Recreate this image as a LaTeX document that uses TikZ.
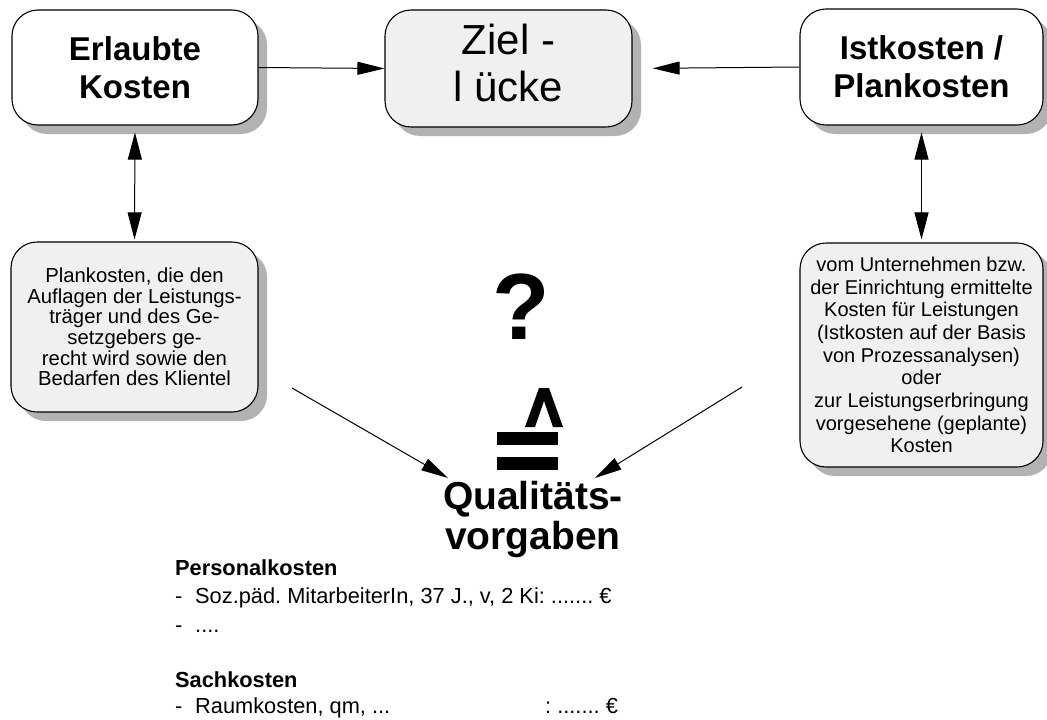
\documentclass[tikz,border=0pt]{standalone}
\usepackage{fontspec}
\setmainfont{Liberation Sans}
\usetikzlibrary{arrows.meta,shadows}
\frenchspacing

\begin{document}
\begin{tikzpicture}[x=1pt,y=-1pt,
  box/.style={draw=black, line width=1.1pt, rounded corners=26pt, align=center,
    inner sep=0pt, fill=white,
    drop shadow={shadow xshift=9pt, shadow yshift=-9pt, fill=black!30, opacity=1}},
  greybox/.style={box, fill=black!6},
  titlefont/.style={font=\fontsize{33}{38}\selectfont\bfseries},
  notefont/.style={font=\fontsize{20.3}{20.6}\selectfont},
  arr/.style={line width=1pt, -{Triangle[length=27pt,width=13pt]}},
  dblarr/.style={line width=1pt, {Triangle[length=27pt,width=14pt]}-{Triangle[length=27pt,width=14pt]}},
  plain/.style={inner sep=0pt, font=\fontsize{21.8}{24}\selectfont},
  plainbold/.style={plain, font=\fontsize{21.8}{24}\selectfont\bfseries}
]
\useasboundingbox (0,0) rectangle (1047,720);

% top row
\node[box, titlefont, minimum width=246pt, minimum height=115pt] (erl) at (135,67.5)
  {Erlaubte\\Kosten};
\node[greybox, font=\fontsize{42}{47}\selectfont, minimum width=247pt, minimum height=117pt] (ziel) at (508.5,68.5)
  {\raisebox{3pt}{\begin{tabular}{@{}c@{}}Ziel -\\l ücke\end{tabular}}};
\node[box, titlefont, minimum width=243pt, minimum height=116pt] (ist) at (921.5,67)
  {Istkosten /\\Plankosten};

% explanation boxes
\node[greybox, notefont, minimum width=247pt, minimum height=170pt] (plan) at (134.5,327)
  {Plankosten, die den\\Auflagen der Leistungs-\\träger und des Ge-\\setzgebers ge-\\recht wird sowie den\\Bedarfen des Klientel};
\node[greybox, font=\fontsize{20}{22.7}\selectfont, minimum width=243pt, minimum height=224pt] (real) at (921.5,355)
  {vom Unternehmen bzw.\\der Einrichtung ermittelte\\Kosten für Leistungen\\(Istkosten auf der Basis\\von Prozessanalysen)\\oder\\zur Leistungserbringung\\vorgesehene (geplante)\\Kosten};

% connectors between the boxes
\draw[arr] (erl.east) -- (ziel.west);
\draw[arr, shorten >=20pt] (ist.west) -- (ziel.east);
\draw[dblarr, shorten <=7pt, shorten >=2pt] (erl.south) -- (plan.north);
\draw[dblarr, shorten <=7pt, shorten >=3pt] (ist.south) -- (real.north);

% question mark and "corresponds to" sign
\node[inner sep=0pt, font=\fontsize{94}{94}\selectfont\bfseries] (q) at (521.5,307) {?};
\fill (525,427) -- (539,388) -- (549,388) -- (563,427) -- (553,427) -- (544,401) -- (535,427) -- cycle;
\fill (497,432) rectangle (558,445);
\fill (497,457) rectangle (558,470);

% quality targets
\node[inner sep=0pt, align=center, font=\fontsize{39}{40}\selectfont\bfseries] (qv) at (533,519)
  {Qualitäts-\\vorgaben};
\coordinate (lfrom) at (292,388);
\coordinate (lto) at (448,478);
\coordinate (rfrom) at (742,387);
\coordinate (rto) at (595,478);
\draw[arr] (lfrom) -- (lto);
\draw[arr] (rfrom) -- (rto);

% cost listing
\node[plainbold, anchor=base west] (pk) at (175,575) {Personalkosten};
\node[plain, anchor=base west] (d1) at (175,603) {-};
\node[plain, anchor=base west] (t1) at (195,603) {Soz.päd. MitarbeiterIn, 37 J., v, 2 Ki: ....... €};
\node[plain, anchor=base west] (d2) at (175,632) {-};
\node[plain, anchor=base west] (t2) at (195,632) {....};
\node[plainbold, anchor=base west] (sk) at (175,687) {Sachkosten};
\node[plain, anchor=base west] (d3) at (175,713) {-};
\node[plain, anchor=base west] (t3) at (195,713) {Raumkosten, qm, ...};
\node[plain, anchor=base west] (t4) at (545,713) {: ....... €};
\end{tikzpicture}
\end{document}
